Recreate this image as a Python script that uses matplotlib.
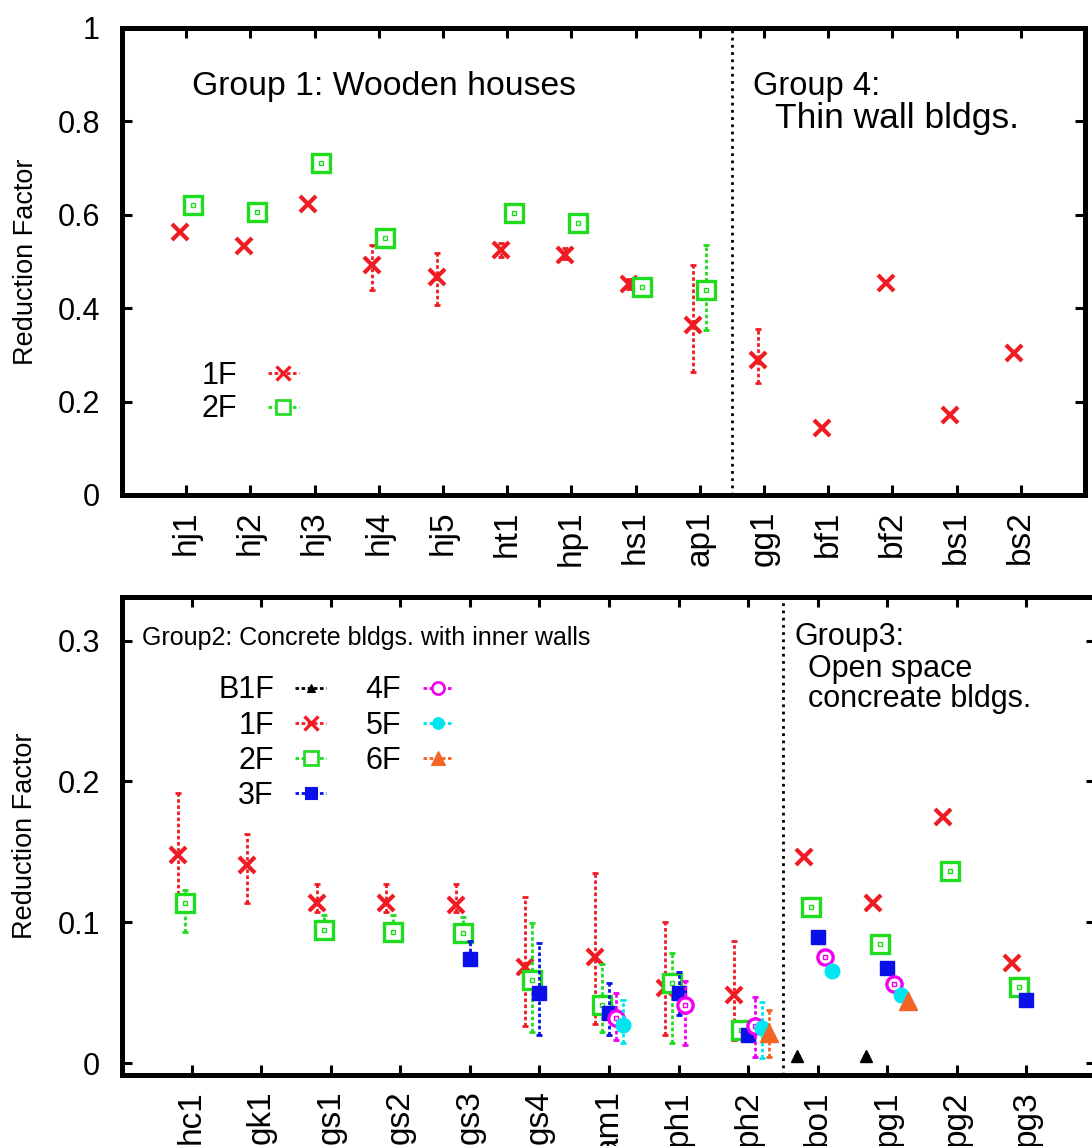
import numpy as np
import matplotlib
matplotlib.use("Agg")
import matplotlib.pyplot as plt
from matplotlib.lines import Line2D

nan = np.nan

# upper panel: Group 1 (wooden houses) and Group 4 (thin wall bldgs.)
top_sites = ["hj1", "hj2", "hj3", "hj4", "hj5", "ht1", "hp1", "hs1", "ap1",
             "gg1", "bf1", "bf2", "bs1", "bs2"]
top_1f = [0.563, 0.533, 0.623, 0.492, 0.467, 0.524, 0.514, 0.452, 0.364,
          0.289, 0.143, 0.454, 0.171, 0.304]
top_1f_lo = [nan, nan, nan, 0.439, 0.407, 0.510, 0.505, 0.442, 0.263,
             0.240, nan, nan, nan, nan]
top_1f_hi = [nan, nan, nan, 0.535, 0.518, 0.540, 0.528, 0.462, 0.492,
             0.355, nan, nan, nan, nan]
top_2f = [0.621, 0.606, 0.711, 0.550, nan, 0.604, 0.583, 0.445, 0.439,
          nan, nan, nan, nan, nan]
top_2f_lo = [nan, nan, nan, nan, nan, nan, nan, nan, 0.353,
             nan, nan, nan, nan, nan]
top_2f_hi = [nan, nan, nan, nan, nan, nan, nan, nan, 0.535,
             nan, nan, nan, nan, nan]
top_yticks = [0, 0.2, 0.4, 0.6, 0.8, 1]
top_yticklabels = ["0", "0.2", "0.4", "0.6", "0.8", "1"]

# lower panel: Group 2 (concrete with inner walls) and Group 3 (open space)
bot_sites = ["hc1", "gk1", "gs1", "gs2", "gs3", "gs4", "am1", "ph1", "ph2",
             "bo1", "pg1", "pg2", "pg3"]
bot_b1f = [nan, nan, nan, nan, nan, nan, nan, nan, nan, 0.005, 0.005, nan, nan]
bot_1f = [0.148, 0.141, 0.114, 0.114, 0.112, 0.068, 0.075, 0.053, 0.048,
          0.146, 0.114, 0.175, 0.071]
bot_1f_lo = [0.120, 0.114, 0.107, 0.107, 0.107, 0.026, 0.028, 0.020, 0.016,
             nan, nan, nan, nan]
bot_1f_hi = [0.192, 0.163, 0.127, 0.127, 0.127, 0.118, 0.135, 0.100, 0.087,
             nan, nan, nan, nan]
bot_2f = [0.114, nan, 0.0945, 0.093, 0.092, 0.059, 0.041, 0.057, 0.0235,
          0.111, 0.0846, 0.1365, 0.054]
bot_2f_lo = [0.093, nan, 0.088, 0.087, 0.086, 0.022, 0.022, 0.014, 0.020,
             nan, nan, nan, nan]
bot_2f_hi = [0.123, nan, 0.105, 0.105, 0.104, 0.0995, 0.070, 0.078, 0.027,
             nan, nan, nan, nan]
bot_3f = [nan, nan, nan, nan, 0.074, 0.0497, 0.0355, 0.050, 0.020,
          0.0895, 0.0675, nan, 0.0448]
bot_3f_lo = [nan, nan, nan, nan, 0.070, 0.020, 0.020, 0.034, 0.018,
             nan, nan, nan, nan]
bot_3f_hi = [nan, nan, nan, nan, 0.087, 0.085, 0.057, 0.065, 0.022,
             nan, nan, nan, nan]
bot_4f = [nan, nan, nan, nan, nan, nan, 0.032, 0.041, 0.026,
          0.0753, 0.056, nan, nan]
bot_4f_lo = [nan, nan, nan, nan, nan, nan, 0.016, 0.013, 0.004,
             nan, nan, nan, nan]
bot_4f_hi = [nan, nan, nan, nan, nan, nan, 0.050, 0.058, 0.047,
             nan, nan, nan, nan]
bot_5f = [nan, nan, nan, nan, nan, nan, 0.027, nan, 0.025,
          0.0654, 0.0483, nan, nan]
bot_5f_lo = [nan, nan, nan, nan, nan, nan, 0.014, nan, 0.0035,
             nan, nan, nan, nan]
bot_5f_hi = [nan, nan, nan, nan, nan, nan, 0.045, nan, 0.043,
             nan, nan, nan, nan]
bot_6f = [nan, nan, nan, nan, nan, nan, nan, nan, 0.021,
          nan, 0.044, nan, nan]
bot_6f_lo = [nan, nan, nan, nan, nan, nan, nan, nan, 0.004,
             nan, nan, nan, nan]
bot_6f_hi = [nan, nan, nan, nan, nan, nan, nan, nan, 0.038,
             nan, nan, nan, nan]
bot_yticks = [0, 0.1, 0.2, 0.3]
bot_yticklabels = ["0", "0.1", "0.2", "0.3"]

floors = ["B1F", "1F", "2F", "3F", "4F", "5F", "6F"]

plt.rcParams["font.family"] = ["Liberation Sans", "DejaVu Sans"]

RED = "#f01c24"
GREEN = "#1fdc1f"
BLUE = "#0a10e8"
MAGENTA = "#f000f0"
CYAN = "#00e6f0"
ORANGE = "#f26522"
BLACK = "#000000"

# marker style per floor
style = {
    "B1F": dict(color=BLACK, marker="^", ms=8, mfc=BLACK, mew=1),
    "1F": dict(color=RED, marker="x", ms=12, mfc=RED, mew=3.0),
    "2F": dict(color=GREEN, marker="s", ms=12.5, mfc="white", mew=2.4),
    "3F": dict(color=BLUE, marker="s", ms=10.5, mfc=BLUE, mew=1),
    "4F": dict(color=MAGENTA, marker="o", ms=11, mfc="white", mew=2.4),
    "5F": dict(color=CYAN, marker="o", ms=10.5, mfc=CYAN, mew=1),
    "6F": dict(color=ORANGE, marker="^", ms=13, mfc=ORANGE, mew=1),
}
ERR_LS = (0, (1.3, 0.9))


def draw_floor(ax, x, y, lo, hi, fl):
    s = style[fl]
    y = np.asarray(y, float)
    lo = np.asarray(lo, float)
    hi = np.asarray(hi, float)
    eb = ax.errorbar(x, y, yerr=np.vstack([y - lo, hi - y]), fmt="none",
                     ecolor=s["color"], elinewidth=2.0, capsize=2.2, capthick=2.0)
    for c in eb[2]:
        c.set_linestyle(ERR_LS)
    ax.plot(x, y, ls="none", marker=s["marker"], ms=s["ms"], mfc=s["mfc"],
            mec=s["color"], mew=s["mew"])
    if s["mfc"] == "white":
        ax.plot(x, y, ls="none", marker="s", ms=2.5, mfc="none",
                mec=s["color"], mew=1.0)


def handle(fl):
    s = style[fl]
    return Line2D([0], [0], color=s["color"], ls=ERR_LS, lw=2.0,
                  marker=s["marker"], ms=s["ms"] * 0.8, mfc=s["mfc"],
                  mec=s["color"], mew=s["mew"] * 0.8)


def frame(ax, n, ylim, yticks, yticklabels, sites):
    ax.set_xlim(-1, n)
    ax.set_ylim(*ylim)
    ax.set_xticks(np.arange(len(sites)))
    ax.set_xticklabels(sites, rotation=90, fontsize=24, va="top", ha="center")
    ax.set_yticks(yticks)
    ax.set_yticklabels(yticklabels, fontsize=22)
    ax.tick_params(direction="in", top=True, right=True, length=7, width=2.2)
    ax.tick_params(axis="y", pad=16)
    ax.tick_params(axis="x", pad=11)
    for sp in ax.spines.values():
        sp.set_linewidth(3.6)
    ax.set_ylabel("Reduction Factor", fontsize=19.5)
    ax.axvline(8.5, color="black", ls=(0, (1, 1.6)), lw=2.0)


fig = plt.figure(figsize=(10.92, 11.46), dpi=100)

# ---- upper panel ----
ax1 = fig.add_axes([0.1117, 0.5681, 0.8819, 0.4075])
xt = np.arange(len(top_sites))
draw_floor(ax1, xt - 0.1, top_1f, top_1f_lo, top_1f_hi, "1F")
draw_floor(ax1, xt + 0.1, top_2f, top_2f_lo, top_2f_hi, "2F")
frame(ax1, len(top_sites), (0, 1), top_yticks, top_yticklabels, top_sites)
ax1.yaxis.set_label_coords(-0.086, 0.5)
ax1.text(0.073, 0.857, "Group 1: Wooden houses", transform=ax1.transAxes,
         fontsize=24.3, va="baseline")
ax1.text(0.655, 0.857, "Group 4:", transform=ax1.transAxes,
         fontsize=23.5, va="baseline")
ax1.text(0.678, 0.786, "Thin wall bldgs.", transform=ax1.transAxes,
         fontsize=25.5, va="baseline")
ax1.legend([handle("1F"), handle("2F")], ["1F", "2F"], loc="upper left",
           bbox_to_anchor=(0.067, 0.32), frameon=False, markerfirst=False,
           fontsize=22, handlelength=1.0, handletextpad=1.0,
           labelspacing=0.12, borderpad=0.0)

# ---- lower panel ----
ax2 = fig.add_axes([0.1117, 0.06196, 0.8919, 0.4171])
xb = np.arange(len(bot_sites))
draw_floor(ax2, xb - 0.3, bot_b1f, bot_b1f, bot_b1f, "B1F")
draw_floor(ax2, xb - 0.2, bot_1f, bot_1f_lo, bot_1f_hi, "1F")
draw_floor(ax2, xb - 0.1, bot_2f, bot_2f_lo, bot_2f_hi, "2F")
draw_floor(ax2, xb, bot_3f, bot_3f_lo, bot_3f_hi, "3F")
draw_floor(ax2, xb + 0.1, bot_4f, bot_4f_lo, bot_4f_hi, "4F")
draw_floor(ax2, xb + 0.2, bot_5f, bot_5f_lo, bot_5f_hi, "5F")
draw_floor(ax2, xb + 0.3, bot_6f, bot_6f_lo, bot_6f_hi, "6F")
frame(ax2, len(bot_sites), (-0.0085, 0.331), bot_yticks, bot_yticklabels, bot_sites)
ax2.yaxis.set_label_coords(-0.086, 0.5)
ax2.text(0.021, 0.90, "Group2: Concrete bldgs. with inner walls",
         transform=ax2.transAxes, fontsize=18, va="baseline")
ax2.text(0.691, 0.90, "Group3:", transform=ax2.transAxes,
         fontsize=22, va="baseline")
ax2.text(0.704, 0.832, "Open space", transform=ax2.transAxes,
         fontsize=22, va="baseline")
ax2.text(0.704, 0.770, "concreate bldgs.", transform=ax2.transAxes,
         fontsize=22, va="baseline")
ax2.legend([handle(f) for f in floors], floors, loc="upper left", ncol=2,
           bbox_to_anchor=(0.083, 0.868), frameon=False, markerfirst=False,
           fontsize=22, handlelength=1.0, handletextpad=0.7,
           labelspacing=0.17, borderpad=0.0, columnspacing=1.3)

fig.savefig("out.png", dpi=100)
